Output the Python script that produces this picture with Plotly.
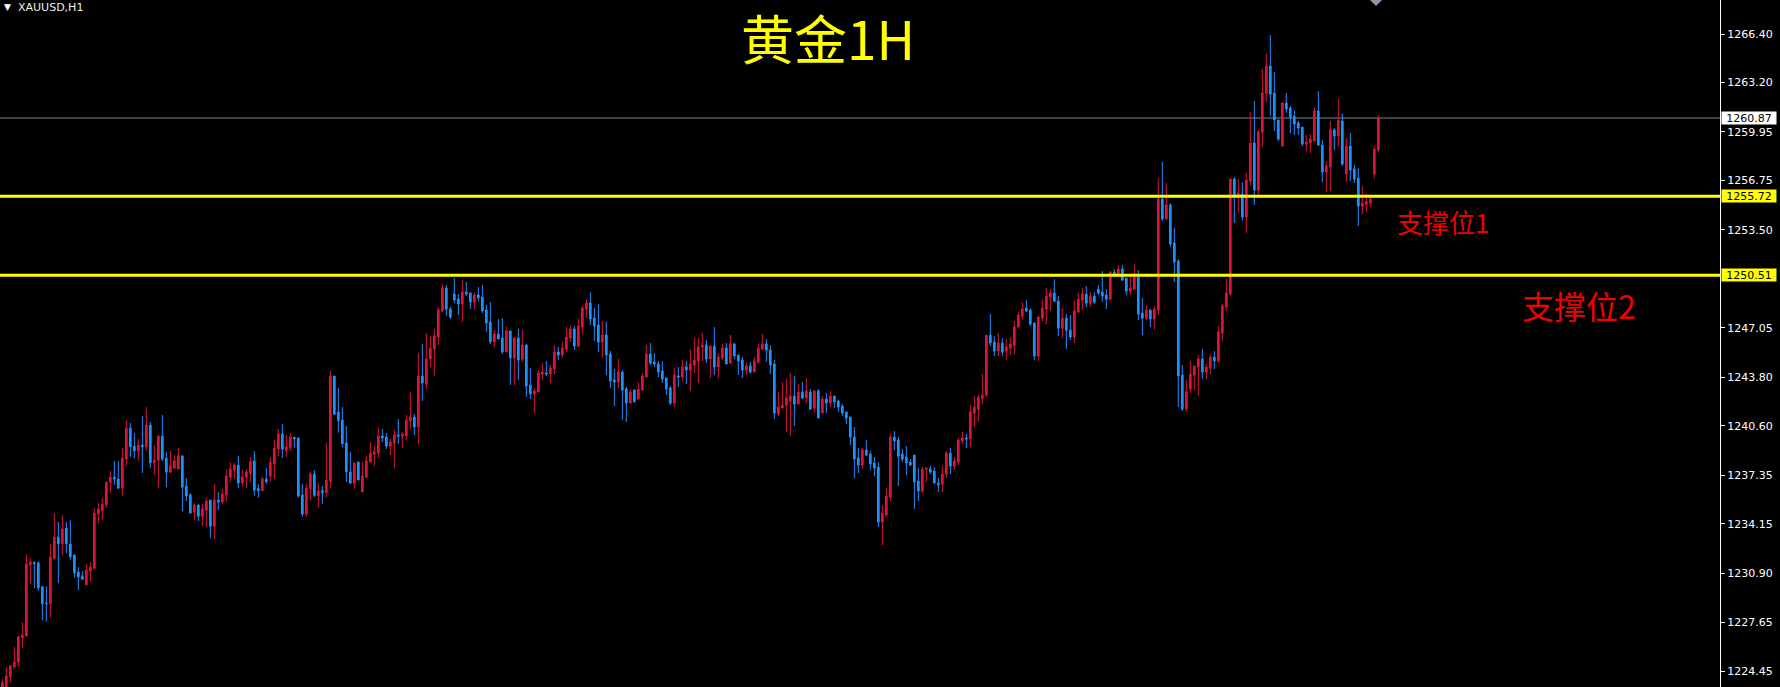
import plotly.graph_objects as go

# ---------------- data (XAUUSD H1) ----------------
opens = [
1223.40,1223.40,1224.07,1224.73,1225.06,1226.64,1226.77,1231.45,1231.58,1231.56,
1230.00,1228.92,1228.88,1231.87,1233.27,1232.83,1233.86,1232.81,1232.09,1230.97,
1230.70,1230.13,1231.05,1231.21,1234.81,1235.01,1235.40,1236.85,1237.22,1237.09,
1236.50,1238.41,1240.45,1239.26,1238.96,1239.33,1239.22,1240.65,1238.17,1238.34,
1239.92,1238.47,1237.55,1237.82,1237.75,1238.61,1236.63,1236.04,1234.92,1235.38,
1234.65,1235.05,1235.71,1233.99,1235.71,1235.58,1236.04,1237.22,1237.68,1238.01,
1236.85,1237.23,1237.47,1238.28,1236.46,1236.33,1237.09,1237.29,1238.08,1239.07,
1240.06,1239.00,1239.18,1239.84,1239.80,1236.04,1234.79,1236.46,1237.42,1236.00,
1236.33,1236.20,1236.97,1243.88,1241.51,1240.98,1239.47,1237.56,1236.83,1238.22,
1236.24,1237.23,1238.22,1238.74,1238.81,1239.93,1239.86,1239.27,1239.47,1240.00,
1239.93,1239.93,1240.92,1241.18,1240.52,1243.88,1243.35,1245.00,1245.66,1246.45,
1248.16,1249.68,1248.29,1249.28,1248.95,1248.62,1249.41,1249.35,1248.75,1249.22,
1249.08,1248.23,1247.44,1246.12,1246.65,1246.38,1245.46,1246.85,1245.07,1246.38,
1244.99,1245.92,1243.29,1242.69,1242.83,1244.01,1244.08,1244.01,1244.34,1245.46,
1245.26,1245.66,1246.38,1246.98,1245.85,1247.10,1248.29,1248.69,1247.70,1247.24,
1246.12,1246.58,1245.33,1243.62,1243.48,1244.14,1243.03,1242.10,1242.96,1242.36,
1242.96,1243.81,1245.33,1244.80,1244.67,1244.21,1243.75,1243.09,1242.10,1243.88,
1243.81,1244.47,1244.27,1244.60,1244.87,1245.79,1245.92,1245.00,1245.85,1244.47,
1245.07,1245.72,1244.74,1245.99,1245.26,1244.93,1244.27,1244.54,1244.14,1244.80,
1245.66,1245.99,1245.60,1244.67,1241.38,1241.77,1241.97,1242.23,1242.56,1242.03,
1242.82,1242.43,1242.82,1241.77,1242.89,1241.44,1242.36,1242.10,1242.56,1242.23,
1241.90,1241.51,1241.18,1239.86,1238.48,1238.02,1239.00,1238.74,1238.15,1237.88,
1234.26,1234.72,1235.91,1239.86,1239.66,1238.74,1238.54,1238.21,1238.67,1236.96,
1236.30,1237.75,1237.75,1237.62,1236.83,1236.76,1237.42,1238.81,1237.95,1238.21,
1239.60,1239.80,1239.73,1241.44,1241.70,1242.42,1242.62,1246.57,1246.11,1245.52,
1246.05,1245.52,1245.72,1245.91,1247.10,1247.82,1248.35,1248.22,1247.37,1245.19,
1247.70,1248.29,1249.08,1249.34,1248.81,1247.03,1247.69,1246.90,1246.44,1248.09,
1248.88,1249.27,1248.68,1249.14,1249.60,1249.40,1249.21,1248.94,1250.72,1250.50,
1250.92,1250.33,1249.47,1249.60,1250.39,1248.02,1247.69,1248.22,1247.63,1248.22,
1255.53,1254.22,1255.14,1252.64,1251.45,1243.94,1241.71,1243.02,1243.94,1244.47,
1245.00,1244.14,1244.41,1245.13,1244.87,1246.71,1248.42,1249.28,1256.85,1255.80,
1255.86,1254.35,1256.72,1259.22,1256.13,1259.95,1262.51,1264.29,1262.51,1260.74,
1259.02,1261.86,1261.53,1260.99,1260.54,1260.27,1259.15,1259.22,1259.35,1261.33,
1259.09,1257.31,1257.64,1260.08,1259.68,1260.67,1257.18,1259.02,1257.51,1256.91,
1255.07,1255.20,1255.27,1257.18,1258.76,
]
highs = [
1223.90,1224.69,1224.84,1226.05,1226.75,1227.67,1232.15,1231.89,1231.69,1231.69,
1230.04,1230.04,1232.81,1234.85,1234.26,1234.72,1234.26,1234.39,1232.09,1231.30,
1231.03,1231.49,1231.62,1235.18,1235.51,1235.84,1236.89,1237.62,1238.28,1238.28,
1239.13,1240.98,1240.78,1240.12,1239.72,1241.24,1241.83,1240.84,1239.33,1239.99,
1241.31,1238.87,1238.93,1238.67,1239.13,1238.67,1237.16,1236.17,1235.51,1235.44,
1235.44,1235.84,1235.71,1236.76,1236.23,1236.43,1237.75,1238.21,1238.15,1238.61,
1237.70,1237.75,1238.54,1238.94,1236.77,1237.25,1237.82,1238.54,1239.66,1240.39,
1240.72,1239.99,1240.12,1239.84,1239.80,1236.77,1236.77,1237.56,1237.69,1236.83,
1236.63,1239.50,1244.21,1243.88,1243.09,1241.84,1240.59,1238.88,1238.15,1238.22,
1238.22,1238.61,1239.54,1239.27,1240.46,1240.39,1240.13,1239.73,1240.33,1241.05,
1240.19,1241.31,1242.83,1241.38,1245.40,1245.99,1246.71,1246.52,1246.98,1248.43,
1249.94,1249.87,1248.43,1250.33,1249.28,1250.20,1250.07,1249.35,1249.35,1249.74,
1249.87,1248.56,1248.75,1246.91,1247.64,1247.70,1247.11,1246.85,1246.38,1246.98,
1246.91,1245.99,1244.41,1243.09,1244.27,1244.74,1244.87,1244.60,1245.92,1245.79,
1246.12,1247.11,1247.24,1247.17,1247.63,1248.49,1248.95,1249.41,1248.36,1248.62,
1247.50,1247.44,1245.53,1244.34,1245.00,1244.27,1243.16,1243.03,1243.03,1243.48,
1244.08,1245.92,1246.05,1245.39,1244.87,1244.87,1243.75,1243.22,1244.41,1244.47,
1244.93,1244.87,1245.66,1246.38,1246.38,1246.71,1246.25,1245.85,1247.10,1245.39,
1245.99,1246.05,1246.58,1246.05,1245.26,1245.13,1244.74,1244.80,1245.13,1245.99,
1246.65,1246.30,1245.90,1244.93,1242.82,1243.48,1243.68,1244.07,1243.88,1243.35,
1243.48,1243.75,1243.02,1242.96,1243.02,1242.56,1242.76,1242.89,1242.56,1242.30,
1242.03,1241.51,1241.18,1240.52,1239.14,1239.14,1239.66,1238.94,1238.54,1238.21,
1235.38,1236.50,1240.06,1240.26,1239.86,1239.07,1239.27,1238.41,1238.67,1237.82,
1237.88,1237.82,1237.95,1237.88,1237.16,1237.95,1238.94,1239.14,1238.54,1239.80,
1240.19,1240.06,1241.97,1242.56,1242.63,1244.01,1246.57,1247.96,1246.51,1246.71,
1246.38,1246.31,1246.44,1247.50,1248.09,1248.75,1248.88,1248.35,1247.37,1247.83,
1248.94,1249.67,1249.60,1250.26,1249.14,1248.35,1247.96,1247.89,1248.88,1249.34,
1249.67,1249.80,1249.40,1249.40,1249.87,1250.79,1249.60,1250.79,1250.92,1251.18,
1251.18,1250.33,1250.39,1251.25,1250.85,1249.01,1248.55,1248.29,1248.49,1256.92,
1257.97,1256.59,1255.27,1253.62,1251.58,1244.60,1243.62,1244.87,1244.54,1245.26,
1245.66,1244.67,1245.33,1245.52,1247.17,1248.62,1250.26,1256.85,1256.98,1256.85,
1256.65,1257.25,1261.26,1261.99,1260.08,1264.10,1265.15,1266.33,1263.90,1260.74,
1261.92,1262.51,1261.66,1261.39,1260.67,1260.27,1259.75,1259.81,1261.59,1262.64,
1259.42,1258.03,1260.67,1260.21,1262.12,1261.13,1259.55,1259.88,1257.77,1257.57,
1256.39,1255.88,1255.62,1259.02,1261.06,
]
lows = [
1223.30,1223.30,1223.68,1224.60,1224.73,1225.98,1226.70,1230.18,1229.91,1229.74,
1227.81,1227.70,1228.00,1231.78,1230.24,1232.11,1232.22,1231.78,1230.59,1229.80,
1230.44,1230.13,1230.33,1231.16,1234.15,1234.41,1235.20,1236.19,1236.72,1236.43,
1235.99,1237.95,1238.54,1238.47,1238.30,1237.49,1238.96,1237.82,1237.35,1236.50,
1238.28,1236.56,1237.49,1237.75,1237.75,1234.98,1235.64,1234.85,1234.39,1234.32,
1234.00,1233.93,1233.20,1233.14,1235.05,1235.44,1235.64,1236.89,1237.09,1236.50,
1236.60,1236.50,1236.90,1236.00,1235.87,1236.30,1236.77,1236.90,1237.09,1238.61,
1238.48,1238.54,1238.94,1239.14,1235.87,1234.61,1234.61,1235.71,1235.91,1235.21,
1235.45,1235.87,1236.46,1241.31,1240.15,1239.21,1236.90,1236.77,1236.46,1237.03,
1236.24,1237.16,1238.22,1237.95,1238.48,1239.53,1239.07,1238.68,1237.82,1239.40,
1239.14,1239.67,1240.39,1240.00,1239.40,1242.23,1243.03,1244.47,1243.88,1245.92,
1248.10,1247.83,1247.64,1248.69,1247.90,1247.44,1249.15,1248.29,1248.29,1248.82,
1248.03,1246.78,1245.99,1245.79,1246.32,1245.33,1245.46,1243.29,1243.29,1243.62,
1244.80,1242.50,1242.36,1241.44,1242.83,1243.62,1243.88,1243.42,1244.01,1244.93,
1245.07,1245.46,1246.12,1245.59,1245.79,1246.65,1247.70,1247.24,1246.19,1245.46,
1245.07,1243.95,1243.09,1241.90,1243.09,1240.98,1240.85,1242.04,1242.17,1242.36,
1242.89,1243.81,1244.60,1244.47,1243.81,1243.42,1242.63,1241.97,1241.84,1243.16,
1243.55,1243.35,1242.89,1244.08,1243.42,1244.87,1244.74,1243.75,1243.95,1243.75,
1244.93,1244.67,1244.67,1245.00,1243.95,1243.75,1243.95,1244.01,1244.14,1244.67,
1245.59,1244.83,1244.01,1241.05,1241.24,1241.77,1240.19,1239.93,1240.58,1242.03,
1242.36,1242.10,1241.64,1241.44,1241.11,1241.44,1241.44,1241.84,1241.77,1241.51,
1241.24,1240.72,1239.33,1237.16,1237.49,1237.75,1238.61,1237.69,1237.29,1233.93,
1232.75,1234.59,1235.64,1239.00,1236.63,1238.21,1237.36,1237.95,1235.12,1235.64,
1236.17,1236.90,1237.42,1236.76,1236.24,1236.24,1237.16,1237.42,1237.69,1238.02,
1239.40,1239.14,1239.20,1240.52,1240.91,1242.03,1242.49,1245.85,1245.19,1245.19,
1245.19,1244.93,1245.26,1245.32,1247.10,1247.63,1248.09,1247.17,1244.93,1244.86,
1247.50,1247.30,1248.16,1248.75,1246.51,1246.38,1245.65,1246.24,1246.05,1248.03,
1248.22,1248.42,1248.42,1248.62,1249.21,1248.75,1248.29,1248.81,1250.42,1250.42,
1250.13,1249.21,1249.21,1249.54,1247.56,1246.57,1247.56,1247.10,1246.97,1247.89,
1254.09,1254.15,1252.37,1250.07,1241.84,1241.57,1241.51,1242.76,1242.96,1242.56,
1243.68,1243.68,1244.01,1244.34,1244.74,1246.18,1248.16,1249.15,1253.95,1254.61,
1254.09,1253.30,1256.46,1255.14,1255.73,1258.96,1261.92,1261.00,1260.01,1259.35,
1259.02,1261.20,1259.88,1259.75,1259.75,1259.02,1258.69,1258.56,1259.35,1259.02,
1256.65,1255.99,1256.06,1258.76,1258.96,1257.71,1256.65,1256.72,1256.59,1253.75,
1254.54,1254.67,1255.01,1256.91,1258.63,
]
closes = [
1223.70,1224.12,1224.80,1225.04,1226.71,1226.82,1231.49,1231.62,1231.52,1229.93,
1228.88,1228.88,1231.95,1233.27,1232.83,1233.80,1232.83,1231.98,1230.92,1230.66,
1230.51,1231.10,1231.30,1234.85,1235.12,1235.44,1236.89,1237.22,1237.09,1236.50,
1238.47,1240.45,1239.22,1238.96,1239.33,1239.22,1240.65,1238.17,1238.34,1239.92,
1238.41,1237.55,1237.95,1238.28,1238.61,1236.56,1235.97,1234.85,1235.38,1234.65,
1235.12,1235.64,1233.99,1235.71,1235.58,1236.10,1237.29,1237.75,1238.01,1236.83,
1237.23,1237.56,1238.24,1236.37,1236.33,1237.09,1236.92,1238.17,1239.14,1240.06,
1239.07,1239.20,1239.86,1239.75,1235.97,1234.79,1236.50,1237.42,1236.02,1236.30,
1236.20,1237.03,1243.88,1241.36,1240.94,1239.42,1237.56,1236.83,1238.15,1237.03,
1237.29,1238.28,1238.81,1238.88,1239.93,1239.80,1239.27,1239.53,1240.00,1239.93,
1240.04,1240.98,1241.18,1240.52,1243.88,1243.42,1245.00,1245.73,1246.52,1248.23,
1249.68,1248.29,1247.77,1248.89,1248.62,1249.41,1249.28,1248.75,1249.22,1249.02,
1248.16,1247.37,1246.12,1246.65,1246.32,1245.46,1246.85,1245.07,1246.38,1244.93,
1245.92,1243.22,1242.69,1242.89,1244.08,1244.14,1244.01,1244.41,1245.46,1245.26,
1245.72,1246.45,1246.98,1245.85,1247.17,1248.36,1248.69,1247.63,1247.17,1246.12,
1246.58,1245.26,1243.55,1243.48,1244.14,1242.96,1242.10,1242.83,1242.17,1243.03,
1243.88,1245.33,1244.74,1244.67,1244.14,1243.68,1243.03,1242.10,1243.95,1243.81,
1244.47,1244.27,1244.67,1244.93,1245.79,1245.92,1245.00,1245.85,1244.47,1245.13,
1245.72,1244.67,1245.99,1245.20,1244.87,1244.27,1244.54,1244.14,1244.87,1245.72,
1245.99,1245.60,1244.60,1241.44,1241.84,1241.97,1242.43,1242.56,1242.03,1242.82,
1242.43,1242.89,1241.70,1242.89,1241.11,1242.36,1242.10,1242.56,1242.17,1241.84,
1241.44,1241.11,1239.86,1238.41,1238.02,1239.00,1238.67,1238.08,1237.82,1234.26,
1234.85,1235.97,1239.86,1239.60,1238.61,1238.41,1238.15,1238.02,1236.90,1236.30,
1237.75,1237.82,1237.56,1236.83,1236.70,1237.42,1238.81,1237.95,1238.28,1239.66,
1239.80,1239.73,1241.51,1241.84,1242.49,1242.62,1246.57,1246.05,1245.52,1246.05,
1245.45,1245.78,1245.98,1247.10,1247.89,1248.29,1248.16,1247.30,1245.19,1247.76,
1248.35,1249.14,1249.34,1248.81,1247.03,1247.69,1246.90,1246.44,1248.16,1248.94,
1249.27,1248.68,1249.14,1248.75,1249.34,1249.14,1248.94,1250.72,1250.50,1250.92,
1250.20,1249.47,1249.67,1250.39,1247.96,1247.69,1248.22,1247.63,1248.29,1255.53,
1254.22,1255.14,1252.57,1251.38,1243.88,1241.71,1242.83,1244.01,1244.54,1245.00,
1244.14,1244.47,1245.13,1244.87,1246.78,1248.49,1249.34,1256.85,1255.80,1255.93,
1254.35,1256.79,1259.22,1256.13,1259.95,1262.51,1264.29,1262.45,1260.74,1259.48,
1261.86,1261.46,1260.93,1260.47,1260.21,1259.15,1259.29,1259.48,1261.33,1259.09,
1257.31,1257.71,1260.08,1259.68,1260.73,1257.84,1259.02,1257.44,1256.85,1255.07,
1255.27,1255.36,1255.53,1258.82,1260.87,
]
bars = list(range(len(opens)))

support_levels = [1255.72, 1250.51]
support_names = ["支撑位1", "支撑位2"]
current_price = 1260.87
tick_values = [1266.40, 1263.20, 1259.95, 1256.75, 1253.50, 1247.05, 1243.80,
               1240.60, 1237.35, 1234.15, 1230.90, 1227.65, 1224.45]
tick_labels = ["%.2f" % v for v in tick_values]
symbol = "XAUUSD,H1"
title = "黄金1H"

BULL = "#DC143C"
BEAR = "#1E90FF"
YELLOW = "#FFFF00"

fig = go.Figure(go.Candlestick(
    x=bars, open=opens, high=highs, low=lows, close=closes,
    increasing=dict(line=dict(color=BULL, width=1), fillcolor=BULL),
    decreasing=dict(line=dict(color=BEAR, width=1), fillcolor=BEAR),
    whiskerwidth=0, hoverinfo="skip",
))

shapes = []
for lv in support_levels:
    shapes.append(dict(type="line", xref="paper", x0=0, x1=1, yref="y", y0=lv, y1=lv,
                       line=dict(color=YELLOW, width=3), layer="above"))
shapes.append(dict(type="line", xref="paper", x0=0, x1=1, yref="y", y0=current_price,
                   y1=current_price, line=dict(color="#7A8896", width=1), layer="below"))
# small grey chart-shift marker at the top edge
shapes.append(dict(type="path", xref="paper", yref="paper",
                   xsizemode="pixel", ysizemode="pixel",
                   xanchor=1376 / 1720, yanchor=1,
                   path="M -6,0 L 6,0 L 0,-6 Z",
                   fillcolor="#8796A8", line=dict(width=0)))

LBL_FONT = dict(family="DejaVu Sans", size=11, color="#000000")
annotations = []
annotations.append(dict(xref="paper", x=1, xanchor="left", xshift=1, yref="y", y=current_price,
                        text="%.2f" % current_price, showarrow=False, bgcolor="#FFFFFF",
                        font=LBL_FONT, width=54, height=12, borderpad=0, align="center"))
for lv in support_levels:
    annotations.append(dict(xref="paper", x=1, xanchor="left", xshift=1, yref="y", y=lv,
                            text="%.2f" % lv, showarrow=False, bgcolor=YELLOW,
                            font=LBL_FONT, width=54, height=12, borderpad=0, align="center"))

annotations.append(dict(xref="paper", yref="paper", x=828 / 1720, y=1 - 37 / 687,
                        text=title, showarrow=False, xanchor="center", yanchor="middle",
                        font=dict(family="Noto Sans CJK SC", size=53, color=YELLOW)))
annotations.append(dict(xref="paper", yref="paper", x=1443 / 1720, y=1 - 222 / 687,
                        text=support_names[0], showarrow=False, xanchor="center", yanchor="middle",
                        font=dict(family="Noto Sans CJK SC", size=26, color="#F00000")))
annotations.append(dict(xref="paper", yref="paper", x=1579 / 1720, y=1 - 305 / 687,
                        text=support_names[1], showarrow=False, xanchor="center", yanchor="middle",
                        font=dict(family="Noto Sans CJK SC", size=32, color="#F00000")))
annotations.append(dict(xref="paper", yref="paper", x=16 / 1720, y=1 - 8 / 687,
                        text=symbol, showarrow=False, xanchor="left", yanchor="middle",
                        font=dict(family="DejaVu Sans", size=11, color="#EEEEEE")))
annotations.append(dict(xref="paper", yref="paper", x=7 / 1720, y=1 - 7 / 687,
                        text="▼", showarrow=False, xanchor="center", yanchor="middle",
                        font=dict(family="DejaVu Sans", size=9, color="#FFFFFF")))

fig.update_layout(
    width=1780, height=687,
    paper_bgcolor="#000000", plot_bgcolor="#000000",
    margin=dict(l=0, r=60, t=0, b=0),
    showlegend=False,
    boxgap=0.4,
    shapes=shapes, annotations=annotations,
    xaxis=dict(range=[-0.583, 429.42], visible=False, rangeslider=dict(visible=False),
               showgrid=False, zeroline=False, fixedrange=True),
    yaxis=dict(range=[1223.40, 1268.64], side="right", tickvals=tick_values,
               ticktext=tick_labels, ticks="outside", ticklen=4, tickcolor="#FFFFFF",
               showline=True, linecolor="#FFFFFF", linewidth=1, showgrid=False,
               zeroline=False, tickfont=dict(family="DejaVu Sans", size=11, color="#FFFFFF"),
               fixedrange=True),
)

fig.write_html(
    "out.html",
    config={"displayModeBar": False, "staticPlot": True},
    post_script="document.body.style.margin='0';document.body.style.padding='0';"
                "document.body.style.background='#000';document.body.style.overflow='hidden';",
)
